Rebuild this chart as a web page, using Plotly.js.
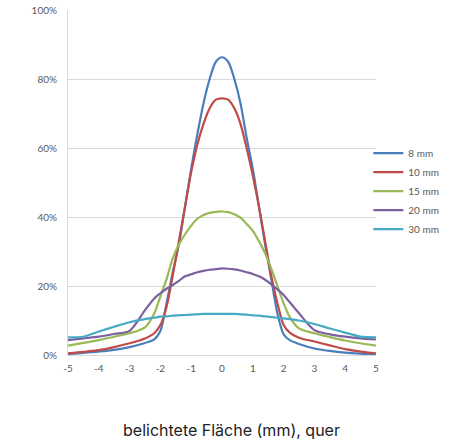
<!DOCTYPE html>
<html>
<head>
<meta charset="utf-8">
<script src="https://cdn.plot.ly/plotly-3.0.1.min.js"></script>
<style>html,body{margin:0;padding:0;background:#fff}#chart{width:458px;height:446px}</style>
</head>
<body>
<div id="chart"></div>
<script>
const xPos = [-5,-4.5,-4,-3.5,-3,-2.5,-2.2,-2,-1.8,-1.6,-1.4,-1.2,-1,-0.8,-0.6,-0.4,-0.2,0,0.2,0.4,0.6,0.8,1,1.2,1.4,1.6,1.8,2,2.2,2.5,3,3.5,4,4.5,5];
const seriesNames = ["8 mm","10 mm","15 mm","20 mm","30 mm"];
const s8  = [0.3,0.6,1.0,1.5,2.3,3.5,4.5,7,15,24,32,43,54,64,73,80,85,86.3,85,80,73,63,54,43,32,22,12,6,4.3,3.2,1.9,1.2,0.7,0.4,0.2];
const s10 = [0.5,0.9,1.4,2.3,3.4,4.8,6.3,8.7,14,23,33,43,53,61,67,71.5,74,74.4,74,71.5,67,60,52,43,33,23,15,8.7,6.5,5,3.9,2.8,1.7,1.0,0.5];
const s15 = [2.7,3.5,4.3,5.3,6.3,8,12,17,22,28,32,35,37.5,39.5,40.6,41.2,41.5,41.6,41.4,40.8,39.8,38,36,33,29.5,25,20,15,11,7.7,6.3,5.2,4.2,3.4,2.7];
const s20 = [4.3,4.8,5.3,6.1,7,13,16.4,17.9,19.2,20.3,21.5,22.8,23.4,24,24.4,24.7,24.9,25.1,25,24.8,24.5,24,23.5,22.8,21.8,20.5,19,17.4,15.3,12.1,7.2,6,5.3,4.8,4.5];
const s30 = [5.1,5.3,6.8,8.2,9.5,10.4,10.8,11.1,11.2,11.4,11.5,11.6,11.7,11.8,11.9,11.9,11.9,11.9,11.9,11.9,11.8,11.7,11.5,11.4,11.2,11.0,10.8,10.6,10.4,10.0,9.0,7.7,6.5,5.3,5.1];
const xTickVals = [-5,-4,-3,-2,-1,0,1,2,3,4,5];
const xTickText = ["-5","-4","-3","-2","-1","0","1","2","3","4","5"];
const xTitle = "belichtete Fläche (mm), quer";
const colors = ["#4A7EBB","#BE4B48","#98B954","#7D60A0","#46AAC5"];
const allSeries = [s8,s10,s15,s20,s30];

const traces = allSeries.map((s,i)=>({
  x: xPos,
  y: s.map(v=>v/100),
  name: seriesNames[i],
  type: 'scatter',
  mode: 'lines',
  line: {color: colors[i], width: 2.2, shape: 'spline', smoothing: 0.8},
  hoverinfo: 'skip'
}));

const layout = {
  width: 458, height: 446,
  margin: {l: 68, r: 82, t: 10, b: 91},
  paper_bgcolor: '#fff', plot_bgcolor: '#fff',
  font: {family: 'Lato, "Liberation Sans", sans-serif', size: 10, color: '#595959'},
  showlegend: true,
  legend: {x: 0.975, xanchor: 'left', y: 0.475, yanchor: 'middle', bgcolor: 'rgba(0,0,0,0)',
           font: {size: 10, color: '#595959'}, tracegroupgap: 0, itemwidth: 30},
  xaxis: {
    range: [-5, 5], tickmode: 'array', tickvals: xTickVals, ticktext: xTickText,
    showgrid: false, zeroline: false, showline: false,
    ticks: '', ticklabelstandoff: 6, tickfont: {size: 10, color: '#595959'}
  },
  yaxis: {
    range: [0, 1], dtick: 0.2, tickformat: '.0%',
    showgrid: true, gridcolor: '#D9D9D9', gridwidth: 1,
    zeroline: true, zerolinecolor: '#D9D9D9', zerolinewidth: 1,
    showline: true, linecolor: '#D9D9D9', linewidth: 1,
    ticks: '', ticklabelstandoff: 8, tickfont: {size: 10, color: '#595959'}
  },
  annotations: [{
    text: xTitle, xref: 'paper', yref: 'paper', x: 0.532, y: -0.217,
    xanchor: 'center', yanchor: 'middle', showarrow: false,
    font: {family: 'Inter, "Noto Sans", sans-serif', size: 16, color: '#222222'}
  }]
};
Plotly.newPlot('chart', traces, layout, {displayModeBar: false, staticPlot: true});
</script>
</body>
</html>
